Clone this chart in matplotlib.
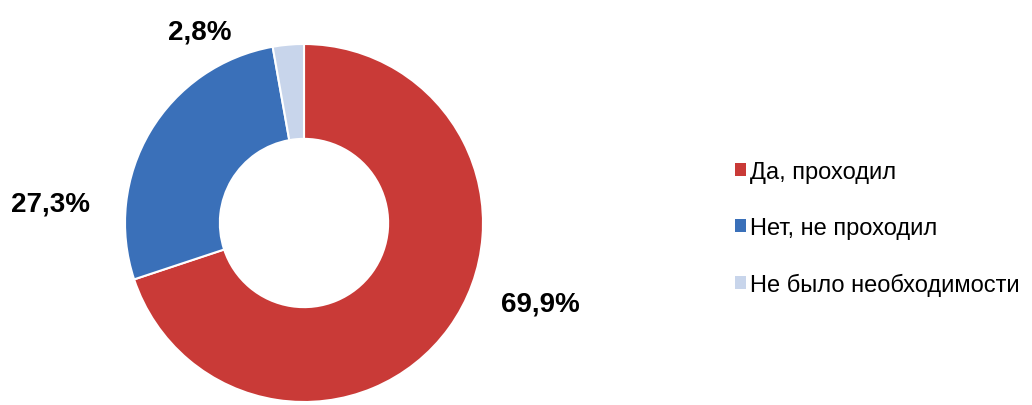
import matplotlib.pyplot as plt
from matplotlib.patches import Patch

plt.rcParams['font.family'] = ['Liberation Sans', 'DejaVu Sans']

labels = ['Да, проходил', 'Нет, не проходил', 'Не было необходимости']
values = [69.9, 27.3, 2.8]
value_text = ['69,9%', '27,3%', '2,8%']
colors = ['#C93A37', '#3A70B9', '#C8D5EB']

fig = plt.figure(figsize=(10.32, 4.06), dpi=100)
ax = fig.add_axes([0, 0, 1, 1])

# donut centre at pixel (304, 224), radius 179 px
cx, cy, r = 304, 224, 179
wedges, _ = ax.pie(values, colors=colors, startangle=90, counterclock=False,
                   radius=1, wedgeprops=dict(width=0.53, edgecolor='white', linewidth=1.5))
ax.set_xlim(-cx / r, (1032 - cx) / r)
ax.set_ylim(-(406 - cy) / r, cy / r)
ax.set_aspect('auto')
ax.axis('off')

# percentage labels (pixel positions of text centres)
label_pos = [(540, 305), (50, 205), (200, 32)]
for txt, (px, py) in zip(value_text, label_pos):
    fig.text(px / 1032, 1 - py / 406, txt, ha='center', va='center',
             fontsize=20, fontweight='bold', color='black')

handles = [Patch(facecolor=c, edgecolor='none') for c in colors]
fig.legend(handles, labels, loc='center left', bbox_to_anchor=(0.692, 0.435),
           frameon=False, handlelength=0.45, handleheight=0.45,
           handletextpad=0.15, labelspacing=1.45, fontsize=17)

fig.savefig('out.png', dpi=100)
